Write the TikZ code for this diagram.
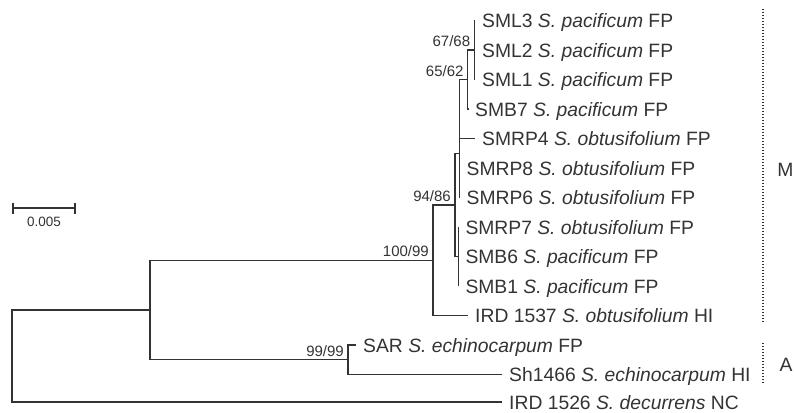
\documentclass[tikz,border=0pt]{standalone}
\usepackage{fontspec}
\setmainfont{Liberation Sans}
\usetikzlibrary{positioning}
\definecolor{ink}{HTML}{333333}

\begin{document}
\begin{tikzpicture}[
  x=1pt, y=-1pt,
  branch/.style={draw=ink, line width=1.4pt},
  leaf/.style={anchor=base west, inner sep=0pt, text=ink,
               font=\fontsize{19.3}{23}\selectfont, xshift=7pt, yshift=-7pt},
  boot/.style={anchor=base east, inner sep=0pt, text=ink,
               font=\fontsize{15}{18}\selectfont, xshift=-4pt, yshift=3.5pt},
  group/.style={draw=ink, line width=1.4pt, dash pattern=on 1.3pt off 1.7pt},
  grouplabel/.style={inner sep=0pt, text=ink, font=\fontsize{19.3}{23}\selectfont}
]
  \useasboundingbox (0,0) rectangle (794,412);

  % Inner nodes of the tree
  \coordinate (root) at (12,356);
  \coordinate (nB)   at (150,310);
  \coordinate (nM)   at (433,260.2);
  \coordinate (nQ)   at (455,204.9);
  \coordinate (nR)   at (459.5,153.25);
  \coordinate (nN65) at (459.5,109);
  \coordinate (nN67) at (467.7,79.5);
  \coordinate (nSML) at (474.3,50);
  \coordinate (nS)   at (458.3,256.5);
  \coordinate (nA)   at (348,359.75);

  % Tips
  \coordinate (tSML3)    at (475,20.5);
  \coordinate (tSML2)    at (475,50);
  \coordinate (tSML1)    at (475,79.5);
  \coordinate (tSMB7)    at (468,109);
  \coordinate (tSMRP4)   at (475,138.5);
  \coordinate (tSMRP8)   at (459.5,168);
  \coordinate (tSMRP6)   at (459.5,197.5);
  \coordinate (tSMRP7)   at (458.3,227);
  \coordinate (tSMB6)    at (458.3,256.5);
  \coordinate (tSMB1)    at (458.3,286);
  \coordinate (tIRD1537) at (468,315.5);
  \coordinate (tSAR)     at (356,345);
  \coordinate (tSh1466)  at (502,374.5);
  \coordinate (tIRD1526) at (502,402);

  % Branches
  \draw[branch] (root) |- (nB);
  \draw[branch] (root) |- (tIRD1526);
  \draw[branch] (nB) |- (nM);
  \draw[branch] (nB) |- (nA);
  \draw[branch] (nM) |- (nQ);
  \draw[branch] (nM) |- (tIRD1537);
  \draw[branch] (nQ) |- (nR);
  \draw[branch] (nQ) |- (nS);
  \draw[branch] (nR) |- (nN65);
  \draw[branch] (nR) |- (tSMRP8);
  \draw[branch] (nR) |- (tSMRP6);
  \draw[branch] (nN65) |- (nN67);
  \draw[branch] (nN65) |- (tSMRP4);
  \draw[branch] (nN67) |- (nSML);
  \draw[branch] (nN67) |- (tSMB7);
  \draw[branch] (nSML) |- (tSML3);
  \draw[branch] (nSML) |- (tSML2);
  \draw[branch] (nSML) |- (tSML1);
  \draw[branch] (nS) |- (tSMRP7);
  \draw[branch] (nS) |- (tSMB6);
  \draw[branch] (nS) |- (tSMB1);
  \draw[branch] (nA) |- (tSAR);
  \draw[branch] (nA) |- (tSh1466);

  % Leaf labels
  \node[leaf] (lSML3)    at (tSML3)    {SML3 \textit{S. pacificum} FP};
  \node[leaf] (lSML2)    at (tSML2)    {SML2 \textit{S. pacificum} FP};
  \node[leaf] (lSML1)    at (tSML1)    {SML1 \textit{S. pacificum} FP};
  \node[leaf] (lSMB7)    at (tSMB7)    {SMB7 \textit{S. pacificum} FP};
  \node[leaf] (lSMRP4)   at (tSMRP4)   {SMRP4 \textit{S. obtusifolium} FP};
  \node[leaf] (lSMRP8)   at (tSMRP8)   {SMRP8 \textit{S. obtusifolium} FP};
  \node[leaf] (lSMRP6)   at (tSMRP6)   {SMRP6 \textit{S. obtusifolium} FP};
  \node[leaf] (lSMRP7)   at (tSMRP7)   {SMRP7 \textit{S. obtusifolium} FP};
  \node[leaf] (lSMB6)    at (tSMB6)    {SMB6 \textit{S. pacificum} FP};
  \node[leaf] (lSMB1)    at (tSMB1)    {SMB1 \textit{S. pacificum} FP};
  \node[leaf] (lIRD1537) at (tIRD1537) {IRD 1537 \textit{S. obtusifolium} HI};
  \node[leaf] (lSAR)     at (tSAR)     {SAR \textit{S. echinocarpum} FP};
  \node[leaf] (lSh1466)  at (tSh1466)  {Sh1466 \textit{S. echinocarpum} HI};
  \node[leaf] (lIRD1526) at (tIRD1526) {IRD 1526 \textit{S. decurrens} NC};

  % Bootstrap values
  \node[boot] (b6768)  at (nSML) {67/68};
  \node[boot] (b6562)  at (nN67) {65/62};
  \node[boot] (b9486)  at (nQ)   {94/86};
  \node[boot] (b10099) at (nM)   {100/99};
  \node[boot] (b9999)  at (nA)   {99/99};

  % Scale bar
  \coordinate (sbL) at (13,208);
  \coordinate (sbR) at (75,208);
  \draw[branch] (sbL) -- (sbR);
  \draw[branch] ([yshift=5.5pt]sbL) -- ([yshift=-5.5pt]sbL);
  \draw[branch] ([yshift=5.5pt]sbR) -- ([yshift=-5.5pt]sbR);
  \node[inner sep=0pt, text=ink, font=\fontsize{13.5}{16}\selectfont] (sbText) at (44,222) {0.005};

  % Groups
  \coordinate (mTop) at (763,9);
  \coordinate (mBot) at (763,322);
  \draw[group] (mTop) -- (mBot);
  \node[grouplabel] (gM) at (785.5,170) {M};
  \coordinate (aTop) at (763,343);
  \coordinate (aBot) at (763,383);
  \draw[group] (aTop) -- (aBot);
  \node[grouplabel] (gA) at (786,365) {A};
\end{tikzpicture}
\end{document}
